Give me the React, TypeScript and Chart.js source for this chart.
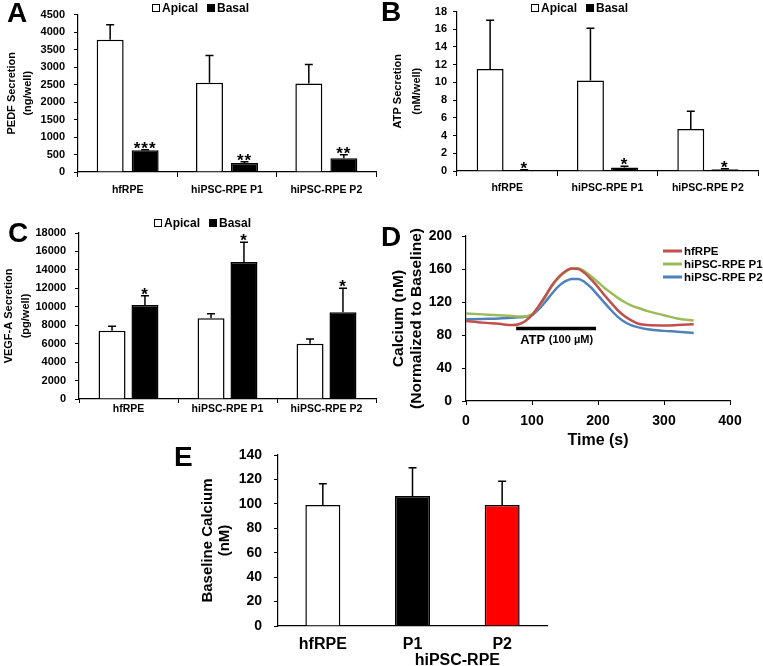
import React, { useEffect, useRef } from 'react';
import { Chart, registerables } from 'chart.js';

Chart.register(...registerables);

const FONT = "'Liberation Sans', Arial, Helvetica, sans-serif";
Chart.defaults.font.family = FONT;
Chart.defaults.color = '#000';

// ---------------- data ----------------
const cellLines = ['hfRPE', 'hiPSC-RPE P1', 'hiPSC-RPE P2'];
const sideLabels = ['Apical', 'Basal'];

// A: PEDF secretion (ng/well)
const pedfApical = [3780, 2550, 2530];
const pedfApicalErr = [430, 780, 540];
const pedfBasal = [620, 260, 390];
const pedfBasalErr = [15, 30, 100];
const pedfStars = ['***', '**', '**'];

// B: ATP secretion (nM/well)
const atpApical = [11.5, 10.2, 4.75];
const atpApicalErr = [5.5, 5.9, 2.0];
const atpBasal = [0.1, 0.4, 0.2];
const atpBasalErr = [0.03, 0.15, 0.05];
const atpStars = ['*', '*', '*'];

// C: VEGF-A secretion (pg/well)
const vegfApical = [7400, 8750, 6000];
const vegfApicalErr = [500, 500, 500];
const vegfBasal = [10200, 14850, 9400];
const vegfBasalErr = [1000, 2150, 2600];
const vegfStars = ['*', '*', '*'];

// D: calcium response (normalized to baseline)
const timeSec = [0, 25, 50, 70, 80, 90, 100, 110, 120, 130, 140, 150, 160, 170, 180, 190, 200, 210, 220, 230, 240, 250, 260, 275, 300, 320, 345];
const calciumHfRPE = [97, 95, 93.5, 92, 93, 97, 104, 115, 127, 140, 150, 157, 160.5, 160, 155, 147, 138, 128, 119, 110, 103, 98, 94, 92, 91.5, 92, 93];
const calciumP1 = [106, 105, 104, 103, 102.5, 102.5, 105, 114, 126, 139, 149, 156, 160.5, 161, 157, 151, 144, 137, 131, 125, 120, 116, 113, 109, 104, 100, 97.5];
const calciumP2 = [99, 99.5, 100, 101, 101.5, 102, 104, 111, 120, 130, 139, 145, 148, 148, 144, 137, 128, 119, 110, 102, 96, 92, 89.5, 87, 85, 84, 82.5];
const lineNames = ['hfRPE', 'hiPSC-RPE P1', 'hiPSC-RPE P2'];
const atpWindow = [76, 197];
const atpLevel = 88;

// E: baseline calcium (nM)
const baselineCategories = ['hfRPE', 'P1', 'P2'];
const baselineGroup = 'hiPSC-RPE';
const baselineCalcium = [99, 106.5, 99];
const baselineErr = [17.5, 23, 19.5];

// ---------------- plugins ----------------
const errorBarPlugin = {
  id: 'errorBars',
  afterDatasetsDraw(chart: any) {
    const ctx = chart.ctx;
    const ys = chart.scales.y;
    chart.data.datasets.forEach((ds: any, i: number) => {
      if (!ds.errors) return;
      const meta = chart.getDatasetMeta(i);
      meta.data.forEach((bar: any, j: number) => {
        const v = ds.data[j];
        const top = ys.getPixelForValue(v + ds.errors[j]);
        const x = bar.x;
        ctx.save();
        ctx.strokeStyle = '#000';
        ctx.lineWidth = 1.5;
        ctx.beginPath();
        ctx.moveTo(x, bar.y);
        ctx.lineTo(x, top);
        ctx.moveTo(x - 4, top);
        ctx.lineTo(x + 4, top);
        ctx.stroke();
        if (ds.stars && ds.stars[j]) {
          ctx.fillStyle = '#000';
          ctx.font = `bold 17px ${FONT}`;
          ctx.textAlign = 'center';
          ctx.textBaseline = 'alphabetic';
          try { (ctx as any).letterSpacing = '1px'; } catch (e) {}
          ctx.fillText(ds.stars[j], x, top + 4);
        }
        ctx.restore();
      });
    });
  },
};

const panelLegendPlugin = {
  id: 'panelLegend',
  afterDraw(chart: any, _args: any, opts: any) {
    if (!opts || opts.x == null) return;
    const ctx = chart.ctx;
    ctx.save();
    ctx.font = `bold ${opts.fontSize}px ${FONT}`;
    ctx.textBaseline = 'middle';
    ctx.textAlign = 'left';
    let x = opts.x;
    let y = opts.y;
    chart.data.datasets.forEach((d: any) => {
      if (opts.kind === 'line') {
        ctx.strokeStyle = d.borderColor;
        ctx.lineWidth = 3;
        ctx.beginPath();
        ctx.moveTo(x, y);
        ctx.lineTo(x + opts.lineLen, y);
        ctx.stroke();
        ctx.fillStyle = '#000';
        ctx.fillText(d.label, x + opts.lineLen + 2, y + 1);
        y += opts.rowHeight;
      } else {
        const s = opts.box;
        ctx.fillStyle = d.backgroundColor;
        ctx.fillRect(x, y - s / 2, s, s);
        ctx.strokeStyle = '#000';
        ctx.lineWidth = 1;
        ctx.strokeRect(x + 0.5, y - s / 2 + 0.5, s - 1, s - 1);
        ctx.fillStyle = '#000';
        ctx.fillText(d.label, x + s + 2, y + 1);
        x += s + 2 + ctx.measureText(d.label).width + opts.gap;
      }
    });
    ctx.restore();
  },
};

const atpMarkerPlugin = {
  id: 'atpMarker',
  afterDatasetsDraw(chart: any, _args: any, opts: any) {
    if (!opts || opts.start == null) return;
    const ctx = chart.ctx;
    const xs = chart.scales.x;
    const ys = chart.scales.y;
    const x1 = xs.getPixelForValue(opts.start);
    const x2 = xs.getPixelForValue(opts.end);
    const y = ys.getPixelForValue(opts.level);
    ctx.save();
    ctx.strokeStyle = '#000';
    ctx.lineWidth = 3.5;
    ctx.beginPath();
    ctx.moveTo(x1, y);
    ctx.lineTo(x2, y);
    ctx.stroke();
    ctx.fillStyle = '#000';
    ctx.textBaseline = 'middle';
    ctx.textAlign = 'left';
    ctx.font = `bold 13px ${FONT}`;
    const tx = x1 + 4;
    ctx.fillText('ATP', tx, y + 12);
    const w = ctx.measureText('ATP ').width;
    ctx.font = `bold 11px ${FONT}`;
    ctx.fillText('(100 µM)', tx + w, y + 12);
    ctx.restore();
  },
};

const groupLabelPlugin = {
  id: 'groupLabel',
  afterDraw(chart: any, _args: any, opts: any) {
    if (!opts || !opts.text) return;
    const ctx = chart.ctx;
    const xs = chart.scales.x;
    const x = (xs.getPixelForValue(opts.from) + xs.getPixelForValue(opts.to)) / 2;
    const y = chart.chartArea.bottom + opts.offset;
    ctx.save();
    ctx.fillStyle = '#000';
    ctx.font = `bold ${opts.fontSize}px ${FONT}`;
    ctx.textAlign = 'center';
    ctx.textBaseline = 'middle';
    ctx.fillText(opts.text, x, y);
    ctx.restore();
  },
};

const plainNumber = (v: any) => String(v);

// ---------------- configs ----------------
function secretionConfig(p: any) {
  return {
    type: 'bar',
    data: {
      labels: cellLines,
      datasets: [
        {
          label: sideLabels[0], data: p.apical, errors: p.apicalErr,
          backgroundColor: '#ffffff', borderColor: '#000', borderWidth: 1.5,
          categoryPercentage: p.catPct, barPercentage: p.barPct,
        },
        {
          label: sideLabels[1], data: p.basal, errors: p.basalErr, stars: p.stars,
          backgroundColor: '#000000', borderColor: '#000', borderWidth: 1.5,
          categoryPercentage: p.catPct, barPercentage: p.barPct,
        },
      ],
    },
    plugins: [errorBarPlugin, panelLegendPlugin],
    options: {
      responsive: false, animation: false, devicePixelRatio: 1,
      layout: { padding: p.padding },
      plugins: {
        legend: { display: false }, tooltip: { enabled: false },
        panelLegend: { x: p.legendX, y: p.legendY, box: 8, gap: 9, fontSize: 12, kind: 'box' },
      },
      scales: {
        x: {
          type: 'category', offset: true,
          grid: { offset: true, drawOnChartArea: false, drawTicks: true, tickLength: p.xTickLen, color: '#000', lineWidth: 1 },
          border: { display: true, color: '#000', width: 1.2 },
          ticks: { font: { size: p.xFont, weight: 'bold' }, padding: p.xPad, color: '#000', maxRotation: 0, autoSkip: false },
          afterFit: (s: any) => { s.height = p.xHeight; },
        },
        y: {
          min: 0, max: p.yMax,
          grid: { drawOnChartArea: false, drawTicks: true, tickLength: 4, color: '#000', lineWidth: 1 },
          border: { display: true, color: '#000', width: 1.2 },
          ticks: { stepSize: p.yStep, font: { size: p.yFont, weight: 'bold', lineHeight: 1 }, padding: p.yPad, color: '#000', callback: plainNumber },
          title: {
            display: true, text: p.yTitle, color: '#000',
            font: { size: p.titleFont, weight: 'bold', lineHeight: p.titleLH },
            padding: { top: p.titlePadTop, bottom: 0 },
          },
          afterFit: (s: any) => { s.width = p.yWidth; },
        },
      },
    },
  };
}

const configA = () => secretionConfig({
  apical: pedfApical, apicalErr: pedfApicalErr, basal: pedfBasal, basalErr: pedfBasalErr, stars: pedfStars,
  yMax: 4500, yStep: 500, yTitle: ['PEDF Secretion', '(ng/well)'],
  padding: { left: 0, top: 7, right: 4, bottom: 0 }, yWidth: 78, xHeight: 28,
  yFont: 11, yPad: 9, xFont: 10.5, xTickLen: 5, xPad: 7,
  titleFont: 11, titleLH: '16px', titlePadTop: 4,
  legendX: 152, legendY: 8, catPct: 0.705, barPct: 0.77,
});

const configB = () => secretionConfig({
  apical: atpApical, apicalErr: atpApicalErr, basal: atpBasal, basalErr: atpBasalErr, stars: atpStars,
  yMax: 18, yStep: 2, yTitle: ['ATP Secretion', '(nM/well)'],
  padding: { left: 0, top: 6, right: 5, bottom: 0 }, yWidth: 77, xHeight: 29,
  yFont: 11, yPad: 6, xFont: 10.5, xTickLen: 5, xPad: 6,
  titleFont: 11, titleLH: '19px', titlePadTop: 8,
  legendX: 151, legendY: 8, catPct: 0.68, barPct: 0.79,
});

const configC = () => secretionConfig({
  apical: vegfApical, apicalErr: vegfApicalErr, basal: vegfBasal, basalErr: vegfBasalErr, stars: vegfStars,
  yMax: 18000, yStep: 2000, yTitle: ['VEGF-A Secretion', '(pg/well)'],
  padding: { left: 0, top: 33, right: 4, bottom: 0 }, yWidth: 79, xHeight: 26,
  yFont: 11, yPad: 9, xFont: 10.5, xTickLen: 4, xPad: 0,
  titleFont: 11, titleLH: '17px', titlePadTop: 0,
  legendX: 154, legendY: 23, catPct: 0.665, barPct: 0.82,
});

const configD = () => {
  const mk = (label: string, ys: number[], color: string) => ({
    label, data: timeSec.map((t, i) => ({ x: t, y: ys[i] })),
    borderColor: color, backgroundColor: color, borderWidth: 2.5,
    pointRadius: 0, fill: false, cubicInterpolationMode: 'monotone',
  });
  return {
    type: 'line',
    data: {
      datasets: [
        mk(lineNames[0], calciumHfRPE, '#c0504d'),
        mk(lineNames[1], calciumP1, '#9bbb59'),
        mk(lineNames[2], calciumP2, '#4f81bd'),
      ],
    },
    plugins: [panelLegendPlugin, atpMarkerPlugin],
    options: {
      responsive: false, animation: false, devicePixelRatio: 1,
      layout: { padding: { left: 0, top: 36, right: 33, bottom: 0 } },
      plugins: {
        legend: { display: false }, tooltip: { enabled: false },
        panelLegend: { x: 283, y: 51, lineLen: 19, rowHeight: 13, fontSize: 11.5, kind: 'line' },
        atpMarker: { start: atpWindow[0], end: atpWindow[1], level: atpLevel },
      },
      scales: {
        x: {
          type: 'linear', min: 0, max: 400,
          grid: { drawOnChartArea: false, drawTicks: true, tickLength: 4, color: '#000' },
          border: { display: true, color: '#000', width: 1.2 },
          ticks: { stepSize: 100, font: { size: 14, weight: 'bold' }, padding: 7.6, color: '#000', callback: plainNumber },
          title: { display: true, text: 'Time (s)', color: '#000', font: { size: 16, weight: 'bold', lineHeight: '19px' }, padding: { top: 0, bottom: 0 } },
          afterFit: (s: any) => { s.height = 49; },
        },
        y: {
          min: 0, max: 200,
          grid: { drawOnChartArea: false, drawTicks: true, tickLength: 4, color: '#000' },
          border: { display: true, color: '#000', width: 1.2 },
          ticks: { stepSize: 40, font: { size: 14, weight: 'bold', lineHeight: 1 }, padding: 10, color: '#000', callback: plainNumber },
          title: {
            display: true, text: ['Calcium (nM)', '(Normalized to Baseline)'], color: '#000',
            font: { size: 15.5, weight: 'bold', lineHeight: '18px' }, padding: { top: 10, bottom: 0 },
          },
          afterFit: (s: any) => { s.width = 86; },
        },
      },
    },
  };
};

const configE = () => ({
  type: 'bar',
  data: {
    labels: baselineCategories,
    datasets: [{
      label: 'Baseline Calcium', data: baselineCalcium, errors: baselineErr,
      backgroundColor: ['#ffffff', '#000000', '#ff0000'], borderColor: '#000', borderWidth: 1.5,
      categoryPercentage: 0.8, barPercentage: 0.4875,
    }],
  },
  plugins: [errorBarPlugin, groupLabelPlugin],
  options: {
    responsive: false, animation: false, devicePixelRatio: 1,
    layout: { padding: { left: 0, top: 25, right: 33, bottom: 0 } },
    plugins: {
      legend: { display: false }, tooltip: { enabled: false },
      groupLabel: { text: baselineGroup, from: 1, to: 2, offset: 35, fontSize: 16 },
    },
    scales: {
      x: {
        type: 'category',
        grid: { drawOnChartArea: false, drawTicks: false, color: '#000' },
        border: { display: true, color: '#000', width: 1.2 },
        ticks: { font: { size: 16, weight: 'bold' }, padding: 8.5, color: '#000', maxRotation: 0 },
        afterFit: (s: any) => { s.height = 40; },
      },
      y: {
        min: 0, max: 140,
        grid: { drawOnChartArea: false, drawTicks: true, tickLength: 4, color: '#000' },
        border: { display: true, color: '#000', width: 1.2 },
        ticks: { stepSize: 20, font: { size: 14, weight: 'bold', lineHeight: 1 }, padding: 12, color: '#000', callback: plainNumber },
        title: {
          display: true, text: ['Baseline Calcium', '(nM)'], color: '#000',
          font: { size: 15, weight: 'bold', lineHeight: '17px' }, padding: { top: 19.5, bottom: 0 },
        },
        afterFit: (s: any) => { s.width = 98; },
      },
    },
  },
});

// ---------------- components ----------------
function ChartPanel({ left, top, width, height, makeConfig }: any) {
  const ref = useRef<HTMLCanvasElement>(null);
  useEffect(() => {
    const chart = new Chart(ref.current as HTMLCanvasElement, makeConfig());
    return () => chart.destroy();
  }, []);
  return (
    <canvas
      ref={ref}
      width={width}
      height={height}
      style={{ position: 'absolute', left, top, width, height }}
    />
  );
}

function PanelLetter({ letter, left, top }: any) {
  return (
    <div style={{ position: 'absolute', left, top, font: `bold 28px ${FONT}`, lineHeight: '28px', color: '#000' }}>
      {letter}
    </div>
  );
}

export default function App() {
  return (
    <div style={{ position: 'absolute', left: 0, top: 0, width: 763, height: 666, background: '#fff', overflow: 'hidden' }}>
      <ChartPanel left={0} top={0} width={380} height={200} makeConfig={configA} />
      <ChartPanel left={380} top={0} width={383} height={200} makeConfig={configB} />
      <ChartPanel left={0} top={200} width={380} height={225} makeConfig={configC} />
      <ChartPanel left={380} top={200} width={383} height={250} makeConfig={configD} />
      <ChartPanel left={180} top={430} width={400} height={236} makeConfig={configE} />
      <PanelLetter letter="A" left={7} top={-1} />
      <PanelLetter letter="B" left={381} top={-2} />
      <PanelLetter letter="C" left={8} top={219} />
      <PanelLetter letter="D" left={381} top={223} />
      <PanelLetter letter="E" left={174} top={443} />
    </div>
  );
}
